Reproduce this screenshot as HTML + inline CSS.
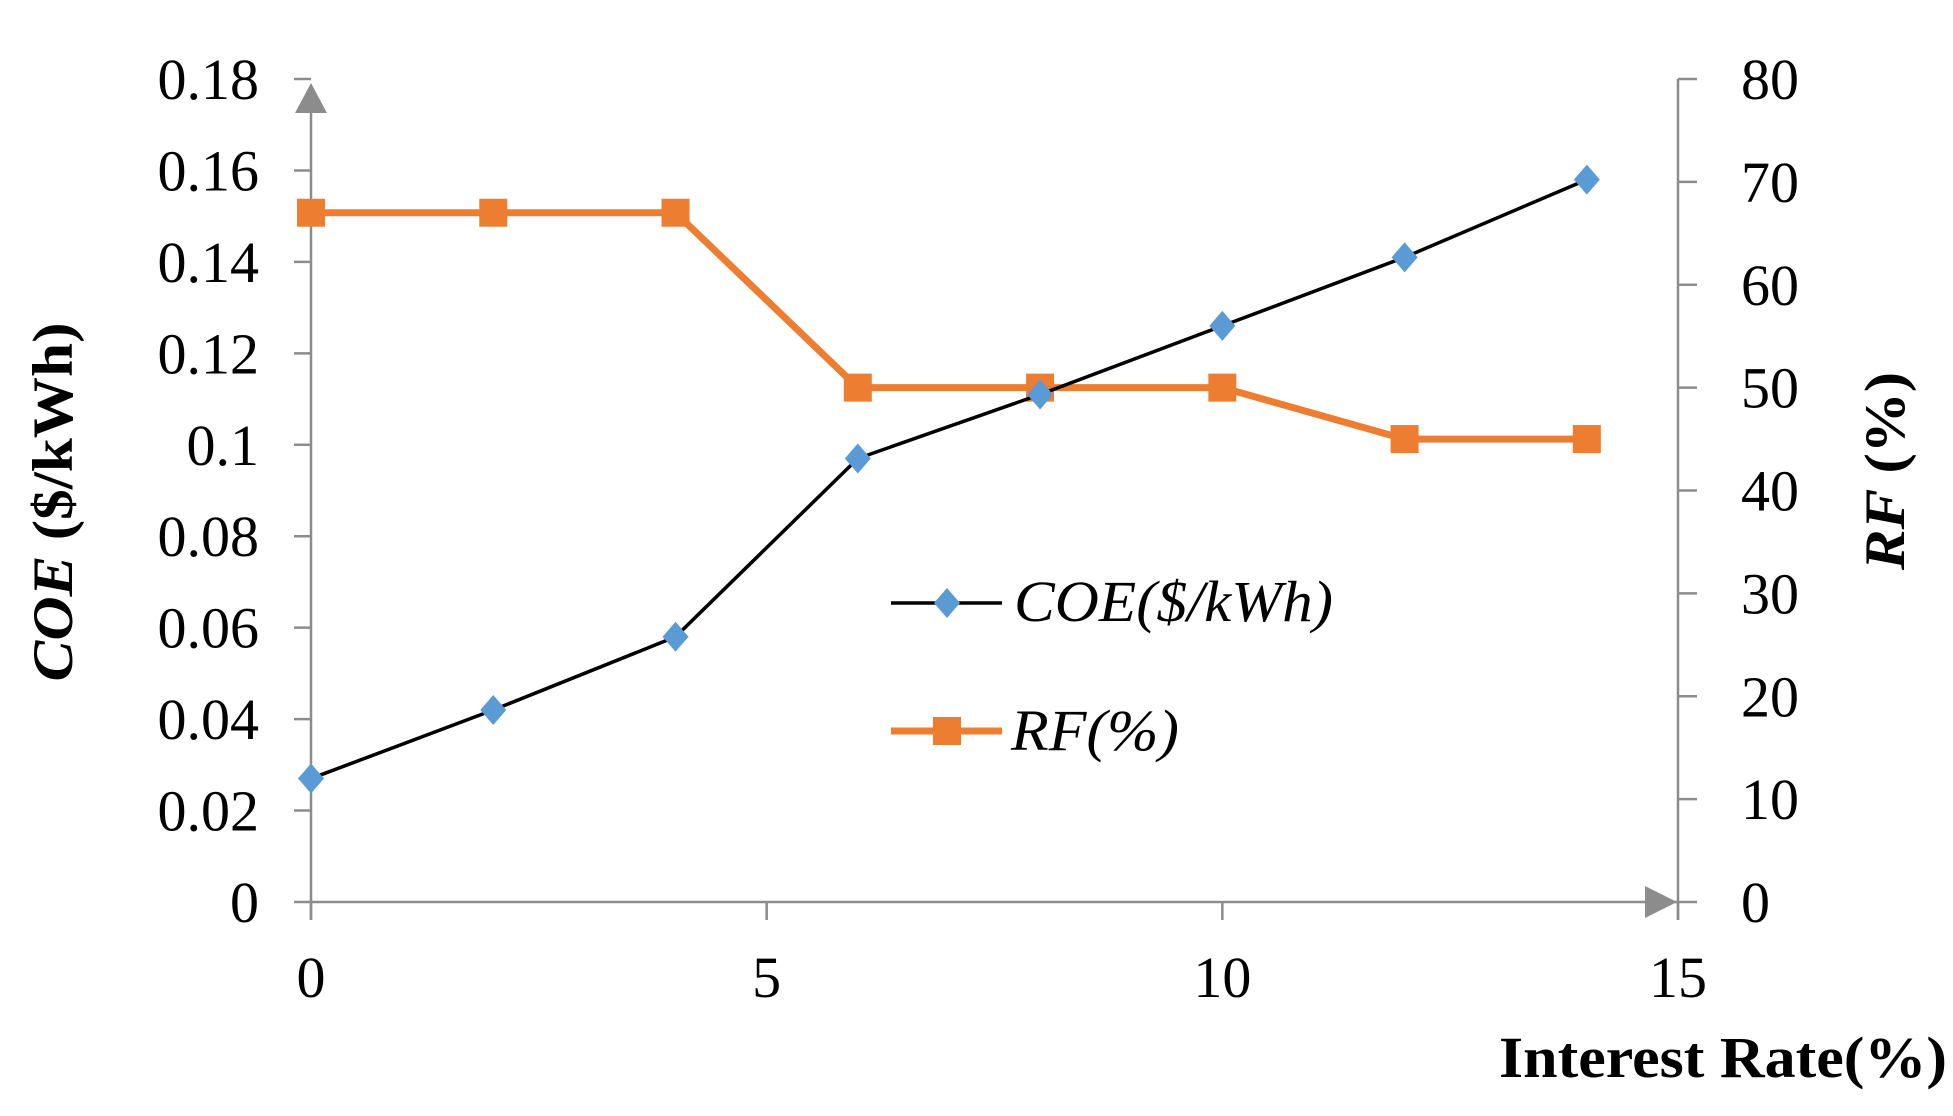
<!DOCTYPE html>
<html><head><meta charset="utf-8"><style>
html,body{margin:0;padding:0;background:#fff;}
svg{display:block;font-family:"Liberation Serif",serif;}
</style></head><body>
<svg id="chart" width="1953" height="1116" viewBox="0 0 1953 1116">
<g id="axes"></g><g id="series"></g><g id="legend"></g>
<text x="59" y="502" transform="rotate(-90 59 502)" text-anchor="middle" font-size="57" font-weight="bold" dominant-baseline="middle" textLength="359" lengthAdjust="spacingAndGlyphs"><tspan font-style="italic">COE</tspan> ($/kWh)</text>
<text x="1891" y="471" transform="rotate(-90 1891 471)" text-anchor="middle" font-size="57" font-weight="bold" dominant-baseline="middle" textLength="198" lengthAdjust="spacingAndGlyphs"><tspan font-style="italic">RF</tspan> (%)</text>
<text x="1499" y="1077" font-size="58" font-weight="bold" textLength="448" lengthAdjust="spacingAndGlyphs">Interest Rate(%)</text>
</svg>
<script>
const xValues=[0,2,4,6,8,10,12,14];
const coeValues=[0.027,0.042,0.058,0.097,0.111,0.126,0.141,0.158];
const rfValues=[67,67,67,50,50,50,45,45];
const xTicks=[0,5,10,15];
const leftTicks=["0","0.02","0.04","0.06","0.08","0.1","0.12","0.14","0.16","0.18"];
const rightTicks=[0,10,20,30,40,50,60,70,80];
const NS="http://www.w3.org/2000/svg";
const X0=311,X1=1678,Y0=902,Y1=79;
const xs=v=>X0+(X1-X0)*v/15;
const yl=v=>Y0-(Y0-Y1)*v/0.18;
const yr=v=>Y0-(Y0-Y1)*v/80;
function mk(parent,tag,attrs,text){const e=document.createElementNS(NS,tag);for(const k in attrs)e.setAttribute(k,attrs[k]);if(text!==undefined)e.textContent=text;parent.appendChild(e);return e;}
const axes=document.getElementById('axes'),series=document.getElementById('series'),legend=document.getElementById('legend');
const G="#8c8c8c";
let e;
e=mk(axes,'line',{x1:X0,y1:Y1+8,x2:X0,y2:920,stroke:G,'stroke-width':2.5});


e=mk(axes,'polygon',{points:`${X0},${Y1+4} ${X0-16},${Y1+34} ${X0+16},${Y1+34}`,fill:G});


e=mk(axes,'line',{x1:X0-17,y1:Y0,x2:X1,y2:Y0,stroke:G,'stroke-width':2.5});


e=mk(axes,'polygon',{points:`${X1-1},${Y0} ${X1-33},${Y0-16} ${X1-33},${Y0+16}`,fill:G});


e=mk(axes,'line',{x1:X1,y1:Y1,x2:X1,y2:920,stroke:G,'stroke-width':2.5});


leftTicks.forEach((t,i)=>{const y=yl(i*0.02);
 if(i>0){e=mk(axes,'line',{x1:X0-17,y1:y,x2:X0,y2:y,stroke:G,'stroke-width':2.5});
 
 }
 e=mk(axes,'text',{x:259,y:y+20,'text-anchor':'end','font-size':58},t);
 
 });
rightTicks.forEach(t=>{const y=yr(t);
 e=mk(axes,'line',{x1:X1,y1:y,x2:X1+19,y2:y,stroke:G,'stroke-width':2.5});
 
 
 e=mk(axes,'text',{x:1741,y:y+20,'font-size':58},String(t));
 
 });
xTicks.forEach(t=>{const x=xs(t);
 e=mk(axes,'line',{x1:x,y1:Y0,x2:x,y2:920,stroke:G,'stroke-width':2.5});
 
 
 e=mk(axes,'text',{x:x,y:997,'text-anchor':'middle','font-size':58},String(t));
 
 });
e=mk(series,'polyline',{points:xValues.map((x,i)=>xs(x)+','+yr(rfValues[i])).join(' '),fill:'none',stroke:'#ED7D31','stroke-width':7});


xValues.forEach((x,i)=>{const cx=xs(x),cy=yr(rfValues[i]);
 e=mk(series,'rect',{x:cx-14,y:cy-14,width:28,height:28,fill:'#ED7D31'});
 
 });
e=mk(series,'polyline',{points:xValues.map((x,i)=>xs(x)+','+yl(coeValues[i])).join(' '),fill:'none',stroke:'#000','stroke-width':3.5});


xValues.forEach((x,i)=>{const cx=xs(x),cy=yl(coeValues[i]);
 e=mk(series,'polygon',{points:`${cx},${cy-15} ${cx+13},${cy} ${cx},${cy+15} ${cx-13},${cy}`,fill:'#5B9BD5'});
 
 });
e=mk(legend,'line',{x1:891,y1:603,x2:1002,y2:603,stroke:'#000','stroke-width':3.5});


e=mk(legend,'polygon',{points:'947,588 960,603 947,618 934,603',fill:'#5B9BD5'});


e=mk(legend,'text',{x:1014,y:621,'font-size':58,'font-style':'italic',textLength:319,lengthAdjust:'spacingAndGlyphs'},'COE($/kWh)');


e=mk(legend,'line',{x1:891,y1:731,x2:1002,y2:731,stroke:'#ED7D31','stroke-width':7});


e=mk(legend,'rect',{x:933,y:717,width:28,height:28,fill:'#ED7D31'});


e=mk(legend,'text',{x:1011,y:750,'font-size':58,'font-style':'italic',textLength:168,lengthAdjust:'spacingAndGlyphs'},'RF(%)');


</script>
</body></html>
